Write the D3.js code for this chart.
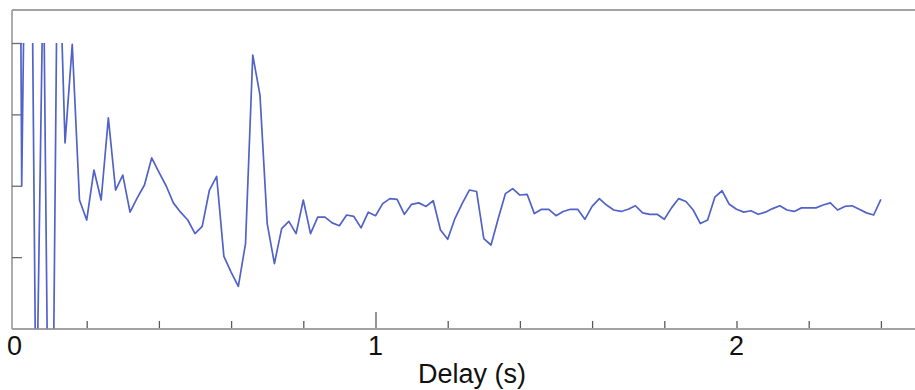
<!DOCTYPE html>
<html>
<head>
<meta charset="utf-8">
<script src="https://cdn.jsdelivr.net/npm/d3@7"></script>
<style>
  html, body { margin: 0; padding: 0; background: #fff; }
  svg { display: block; }
  text { font-family: "Liberation Sans", Arial, Helvetica, sans-serif; fill: #111; }
</style>
</head>
<body>
<svg id="chart" width="915" height="390"></svg>
<script>
// Sampled response versus delay (one sample every 20 ms, from 0 to 2.4 s).
// The first few samples are far outside the visible range and get clipped.
const sampleStep = 0.02;
const values = [
  20, 2.00, 10, -1.56, 5.19, -4.9, 6.0, 2.60, 3.98, 1.80,
  1.52, 2.22, 1.80, 2.95, 1.94, 2.15, 1.63, 1.83, 2.01, 2.39,
  2.19, 2.00, 1.76, 1.63, 1.52, 1.33, 1.43, 1.94, 2.13, 1.01,
  0.79, 0.59, 1.19, 3.83, 3.27, 1.47, 0.91, 1.40, 1.50, 1.33,
  1.80, 1.33, 1.56, 1.56, 1.48, 1.44, 1.59, 1.57, 1.41, 1.63,
  1.58, 1.75, 1.82, 1.81, 1.60, 1.74, 1.76, 1.71, 1.79, 1.38,
  1.25, 1.54, 1.75, 1.94, 1.92, 1.26, 1.17, 1.54, 1.89, 1.96,
  1.87, 1.88, 1.61, 1.67, 1.67, 1.58, 1.64, 1.67, 1.67, 1.53,
  1.71, 1.82, 1.73, 1.66, 1.64, 1.67, 1.72, 1.62, 1.60, 1.60,
  1.53, 1.69, 1.82, 1.78, 1.66, 1.47, 1.52, 1.84, 1.93, 1.74,
  1.67, 1.63, 1.65, 1.60, 1.63, 1.68, 1.72, 1.66, 1.64, 1.69,
  1.69, 1.69, 1.73, 1.76, 1.66, 1.71, 1.72, 1.67, 1.62, 1.59,
  1.81
];
const xMinorTicks = [0.2, 0.4, 0.6, 0.8, 1.0, 1.2, 1.4, 1.6, 1.8, 2.0, 2.2, 2.4];
const xLabelTicks = [0, 1, 2];
const yTicks = [1, 2, 3, 4];
const xTitle = "Delay (s)";

const svg = d3.select("#chart");
const frame = { left: 12, top: 10, right: 915, bottom: 329 };

const x = d3.scaleLinear().domain([0, 2.5]).range([14.5, 14.5 + 2.5 * 361]);
const y = d3.scaleLinear().domain([0, 4]).range([328.5, 43]);

const data = values.map((v, i) => ({ t: i * sampleStep, v }));

// clip the trace to the value range 0..4
svg.append("defs").append("clipPath").attr("id", "plotClip")
  .append("rect")
  .attr("x", frame.left)
  .attr("y", y(4))
  .attr("width", frame.right - frame.left + 10)
  .attr("height", y(0) - y(4));

// frame lines
const frameColor = "#a3a3a3";
svg.append("line").attr("x1", frame.left).attr("x2", frame.right + 5)
  .attr("y1", frame.top).attr("y2", frame.top)
  .attr("stroke", frameColor).attr("stroke-width", 1.8);
svg.append("line").attr("x1", frame.left).attr("x2", frame.left)
  .attr("y1", frame.top).attr("y2", frame.bottom)
  .attr("stroke", frameColor).attr("stroke-width", 1.8);

// y ticks (inward, no labels)
const yAxis = d3.axisLeft(y).tickValues(yTicks).tickSizeInner(-10).tickSizeOuter(0).tickFormat("");
const gy = svg.append("g").attr("transform", `translate(${frame.left},0)`).call(yAxis);
gy.select(".domain").remove();
gy.selectAll(".tick line").attr("stroke", "#6a6a6a").attr("stroke-width", 1.3);

// x ticks (inward, pointing up)
const xAxis = d3.axisBottom(x).tickValues(xMinorTicks).tickSizeInner(-8).tickSizeOuter(0).tickFormat("");
const gx = svg.append("g").attr("transform", `translate(0,${frame.bottom})`).call(xAxis);
gx.select(".domain").remove();
gx.selectAll(".tick line")
  .attr("stroke", "#5a5a5a").attr("stroke-width", 1.3)
  .attr("y2", d => d === 1 ? -17 : -8);

// bottom axis line
svg.append("line").attr("x1", frame.left).attr("x2", frame.right + 5)
  .attr("y1", frame.bottom).attr("y2", frame.bottom)
  .attr("stroke", frameColor).attr("stroke-width", 1.8);

// the trace
const line = d3.line().x(d => x(d.t)).y(d => y(d.v));
svg.append("path")
  .datum(data)
  .attr("clip-path", "url(#plotClip)")
  .attr("fill", "none")
  .attr("stroke", "#5162c8")
  .attr("stroke-width", 1.7)
  .attr("stroke-linejoin", "round")
  .attr("d", line);

// tick labels
svg.selectAll("text.xlab").data(xLabelTicks).join("text")
  .attr("class", "xlab")
  .attr("x", d => x(d))
  .attr("y", 355)
  .attr("text-anchor", "middle")
  .attr("font-size", 27)
  .text(d => d);

// axis title
svg.append("text")
  .attr("x", 472)
  .attr("y", 383)
  .attr("text-anchor", "middle")
  .attr("font-size", 27)
  .text(xTitle);
</script>
</body>
</html>
